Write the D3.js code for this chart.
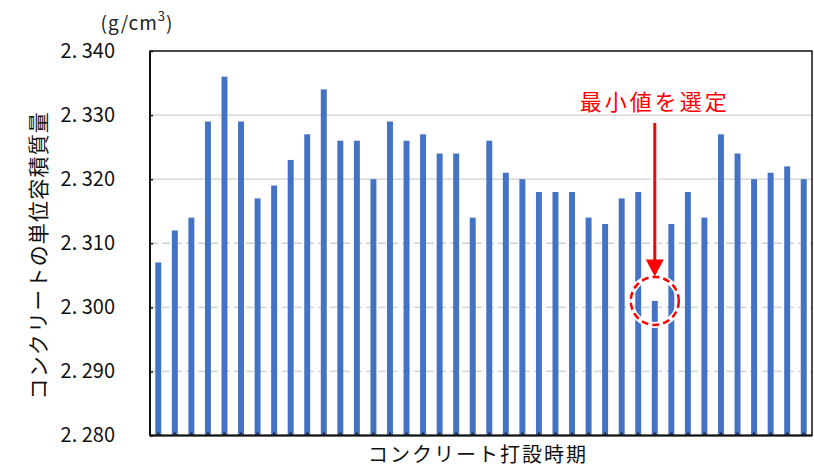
<!DOCTYPE html>
<html><head><meta charset="utf-8">
<script src="https://cdn.jsdelivr.net/npm/d3@7"></script>
<style>
html,body{margin:0;padding:0;background:#fff;}
svg{display:block;}
</style></head>
<body>
<script>
const categories = d3.range(1, 41);
const values = [2.307,2.312,2.314,2.329,2.336,2.329,2.317,2.319,2.323,2.327,
                2.334,2.326,2.326,2.320,2.329,2.326,2.327,2.324,2.324,2.314,
                2.326,2.321,2.320,2.318,2.318,2.318,2.314,2.313,2.317,2.318,
                2.301,2.313,2.318,2.314,2.327,2.324,2.320,2.321,2.322,2.320];
const yTicks = [2.280,2.290,2.300,2.310,2.320,2.330,2.340];
const solidGrid = [2.320,2.330];
const yTitle = "コンクリートの単位容積質量";
const xTitle = "コンクリート打設時期";
const annotation = "最小値を選定";
const W = 814, H = 467;
const m = {left:150, right:2, top:51, bottom:31.5};
const font = "'Noto Sans CJK JP','Noto Sans',sans-serif";

const svg = d3.select("body").append("svg").attr("width", W).attr("height", H);

const x = d3.scaleBand().domain(categories).range([m.left, W - m.right])
  .paddingInner(0.64).paddingOuter(0.32);
const y = d3.scaleLinear().domain([2.28, 2.34]).range([H - m.bottom, m.top]);

// gridlines
svg.append("g").selectAll("line").data(yTicks.filter(t => t > 2.28 && t < 2.34)).join("line")
  .attr("x1", m.left).attr("x2", W - m.right)
  .attr("y1", d => y(d)).attr("y2", d => y(d))
  .attr("stroke", "#d0d0d0").attr("stroke-width", 1.3)
  .attr("stroke-dasharray", d => solidGrid.includes(d) ? null : "8,4");

// bars
svg.append("g").selectAll("rect").data(values).join("rect")
  .attr("x", (d, i) => x(categories[i]))
  .attr("width", x.bandwidth())
  .attr("y", d => y(d))
  .attr("height", d => y(2.28) - y(d))
  .attr("fill", "#4472C4");

// frame
svg.append("rect").attr("x", m.left).attr("y", m.top)
  .attr("width", W - m.right - m.left).attr("height", y(2.28) - m.top)
  .attr("fill", "none").attr("stroke", "#111").attr("stroke-width", 1.5);
svg.append("line").attr("x1", m.left).attr("x2", W - m.right)
  .attr("y1", y(2.28)).attr("y2", y(2.28)).attr("stroke", "#111").attr("stroke-width", 2);
svg.append("line").attr("x1", m.left).attr("x2", m.left)
  .attr("y1", m.top).attr("y2", y(2.28)).attr("stroke", "#111").attr("stroke-width", 2);

// y axis (ticks inward)
const yAxis = d3.axisLeft(y).tickValues(yTicks).tickSize(-3).tickPadding(35)
  .tickFormat(d => d3.format(".3f")(d).replace(".", ". "));
const gy = svg.append("g").attr("transform", `translate(${m.left},0)`).call(yAxis);
gy.select(".domain").remove();
gy.selectAll(".tick line").attr("stroke", "#111").attr("stroke-width", 1.5);
gy.selectAll(".tick text").attr("font-family", font).attr("font-size", 20).attr("fill", "#111");

// x axis ticks (small marks at bar positions)
const xAxis = d3.axisBottom(x).tickSize(-3).tickFormat("");
const gx = svg.append("g").attr("transform", `translate(0,${y(2.28)})`).call(xAxis);
gx.select(".domain").remove();
gx.selectAll(".tick line").attr("stroke", "#223").attr("stroke-width", 2);

// unit
svg.append("text").attr("x", 137).attr("y", 21).attr("text-anchor", "middle")
  .attr("dominant-baseline", "central")
  .attr("font-family", font).attr("font-size", 19).attr("letter-spacing", 1).attr("fill", "#222")
  .call(t => {
    t.append("tspan").text("(g/cm");
    t.append("tspan").attr("font-size", 13).attr("dy", -6).text("3");
    t.append("tspan").attr("dy", 6).text(")");
  });

// y title
svg.append("text").attr("transform", `translate(37,${(m.top + y(2.28)) / 2 + 12}) rotate(-90)`)
  .attr("text-anchor", "middle").attr("dominant-baseline", "central")
  .attr("font-family", font).attr("font-size", 21).attr("letter-spacing", 1.2)
  .attr("fill", "#111").text(yTitle);

// x title
svg.append("text").attr("x", (m.left + W - m.right) / 2 - 3).attr("y", 453)
  .attr("text-anchor", "middle").attr("dominant-baseline", "central")
  .attr("font-family", font).attr("font-size", 20).attr("letter-spacing", 2)
  .attr("fill", "#111").text(xTitle);

// annotation
const minIdx = values.indexOf(d3.min(values));
const cx = x(categories[minIdx]) + x.bandwidth() / 2;
const cy = y(values[minIdx]);
const r = 24;
const arrowTop = 123, tipY = cy - r - 0.5, headH = 17, headW = 9;
const ann = svg.append("g");
ann.append("line").attr("x1", cx).attr("x2", cx).attr("y1", arrowTop).attr("y2", tipY - headH + 2)
  .attr("stroke", "#fff").attr("stroke-width", 7);
ann.append("circle").attr("cx", cx).attr("cy", cy).attr("r", r)
  .attr("fill", "none").attr("stroke", "#fff").attr("stroke-width", 6);
ann.append("circle").attr("cx", cx).attr("cy", cy).attr("r", r)
  .attr("fill", "none").attr("stroke", "#f00").attr("stroke-width", 2.5)
  .attr("stroke-dasharray", "7,4");
ann.append("line").attr("x1", cx).attr("x2", cx).attr("y1", arrowTop).attr("y2", tipY - headH + 2)
  .attr("stroke", "#f00").attr("stroke-width", 3);
ann.append("path")
  .attr("d", `M${cx - headW},${tipY - headH}L${cx + headW},${tipY - headH}L${cx},${tipY}Z`)
  .attr("fill", "#f00");
ann.append("text").attr("x", cx).attr("y", 100)
  .attr("text-anchor", "middle").attr("dominant-baseline", "central")
  .attr("font-family", font).attr("font-size", 22).attr("letter-spacing", 3)
  .attr("fill", "#f00").text(annotation);
</script>
</body></html>
